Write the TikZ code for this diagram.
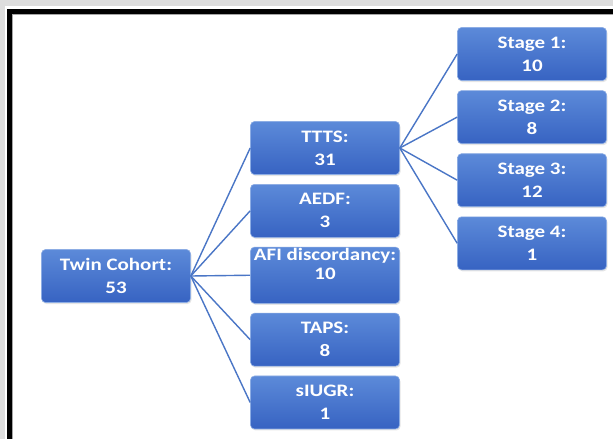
\documentclass[tikz,border=0pt]{standalone}
\usepackage{fontspec}
\setmainfont{Carlito}[FakeStretch=1.2]
\usetikzlibrary{positioning,shadows}

\definecolor{boxtop}{HTML}{5C8AD9}
\definecolor{boxbot}{HTML}{3763C2}
\definecolor{linkblue}{HTML}{4A76C6}
\definecolor{pagegray}{HTML}{DDDDDD}

\tikzset{
  box/.style={rectangle, rounded corners=4pt, minimum width=149pt, minimum height=53pt,
    top color=boxtop, bottom color=boxbot, draw=boxtop!70!white, line width=0.6pt,
    text=white, align=center, inner sep=1pt,
    font=\bfseries\fontsize{17.5}{23}\selectfont,
    drop shadow={opacity=0.2, shadow xshift=1pt, shadow yshift=-1.5pt}},
  link/.style={draw=linkblue, line width=1.4pt}
}

\begin{document}
\begin{tikzpicture}[x=1pt,y=-1pt]
\useasboundingbox (0,0) rectangle (613,439);
\clip (0,0) rectangle (613,439);
\fill[pagegray] (0,0) rectangle (613,439);
\fill[white] (5,6) rectangle (620,445);
\draw[line width=5pt] (9.5,11.5) rectangle (640,460);
\draw[gray!70, line width=0.6pt] (12.6,14.6) rectangle (640,460);

% root
\node[box] (twin) at (116,276) {Twin Cohort:\\53};

% middle column
\node[box] (ttts) at (325,148) {TTTS:\\31};
\node[box, below=9.2pt of ttts] (aedf) {AEDF:\\3};
\node[box, below=9.2pt of aedf, font=\bfseries\fontsize{17.5}{19}\selectfont] (afi) {AFI discordancy:\\10\\[4pt]};
\node[box, below=9.2pt of afi] (taps) {TAPS:\\8};
\node[box, below=9.2pt of taps] (siugr) {sIUGR:\\1};

% stages
\node[box] (st1) at (532,54) {Stage 1:\\10};
\node[box, below=9.5pt of st1] (st2) {Stage 2:\\8};
\node[box, below=9.5pt of st2] (st3) {Stage 3:\\12};
\node[box, below=9.5pt of st3] (st4) {Stage 4:\\1};

\foreach \n in {ttts,aedf,afi,taps,siugr}
  \draw[link] (twin.east) -- (\n.west);
\foreach \n in {st1,st2,st3,st4}
  \draw[link] (ttts.east) -- (\n.west);

\end{tikzpicture}
\end{document}
